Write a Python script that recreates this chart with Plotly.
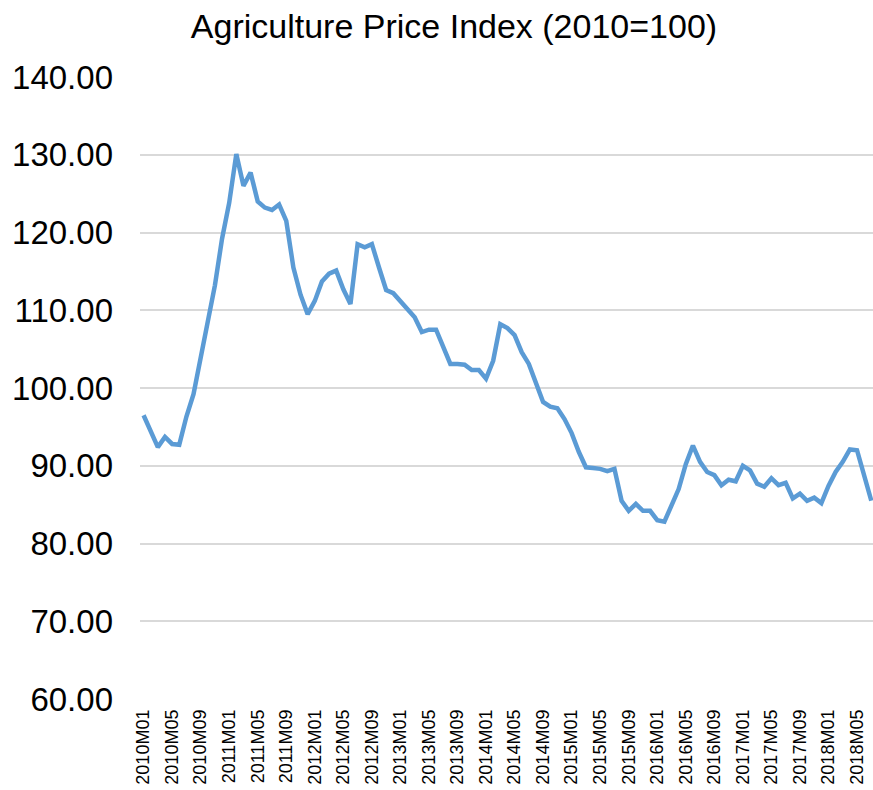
import plotly.graph_objects as go

# Monthly categories 2010M01 .. 2018M07
months = [f"{y}M{m:02d}" for y in range(2010, 2019) for m in range(1, 13)][:103]

price_index = [
    96.5, 94.4, 92.4, 93.7, 92.8, 92.7, 96.3, 99.2, 104.0, 108.7, 113.2, 119.2,   # 2010
    123.8, 130.1, 126.0, 127.7, 124.0, 123.2, 122.9, 123.6, 121.5, 115.5, 112.0, 109.5,  # 2011
    111.2, 113.7, 114.7, 115.1, 112.7, 110.8, 118.5, 118.1, 118.5, 115.5, 112.6, 112.2,  # 2012
    111.1, 110.0, 109.1, 107.2, 107.5, 107.5, 105.2, 103.1, 103.1, 103.0, 102.3, 102.3,  # 2013
    101.2, 103.5, 108.2, 107.7, 106.8, 104.6, 103.1, 100.8, 98.2, 97.6, 97.4, 96.0,      # 2014
    94.2, 91.8, 89.8, 89.7, 89.6, 89.3, 89.6, 85.5, 84.2, 85.1, 84.2, 84.2,              # 2015
    83.0, 82.8, 85.0, 87.0, 90.2, 92.6, 90.5, 89.2, 88.8, 87.5, 88.2, 88.0,              # 2016
    90.0, 89.4, 87.7, 87.3, 88.4, 87.5, 87.8, 85.8, 86.4, 85.5, 85.9, 85.2,              # 2017
    87.4, 89.2, 90.5, 92.1, 92.0, 88.6, 85.5,                                            # 2018
]

tick_labels = months[::4]
y_ticks = [60, 70, 80, 90, 100, 110, 120, 130, 140]
y_tick_text = [f"{v:.2f}" for v in y_ticks]

fig = go.Figure()
fig.add_trace(go.Scatter(
    x=months[:len(price_index)],
    y=price_index,
    mode="lines",
    line=dict(color="#5b9bd5", width=4.5),
    hoverinfo="x+y",
))

fig.update_layout(
    width=873,
    height=790,
    margin=dict(l=140, r=0, t=77, b=91),
    paper_bgcolor="white",
    plot_bgcolor="white",
    showlegend=False,
    font=dict(family="Liberation Sans, Arial, sans-serif", color="#000000"),
    title=dict(
        text="Agriculture Price Index (2010=100)",
        x=454 / 873,
        xref="container",
        xanchor="center",
        y=1 - 26 / 790,
        yref="container",
        yanchor="middle",
        font=dict(size=34, color="#000000"),
    ),
    xaxis=dict(
        type="category",
        categoryorder="array",
        categoryarray=months,
        range=[-0.5, 102.24],
        tickmode="array",
        tickvals=tick_labels,
        ticktext=tick_labels,
        tickangle=-90,
        tickfont=dict(size=18, color="#000000"),
        showgrid=False,
        showline=False,
        zeroline=False,
        ticks="",
        ticklabelstandoff=6,
        automargin=False,
    ),
    yaxis=dict(
        range=[60, 140],
        tickmode="array",
        tickvals=y_ticks,
        ticktext=y_tick_text,
        tickfont=dict(size=33, color="#000000"),
        showgrid=True,
        gridcolor="#d9d9d9",
        gridwidth=2,
        zeroline=False,
        showline=False,
        ticks="",
        ticklabelstandoff=26,
        automargin=False,
    ),
)

fig.write_html(
    "out.html",
    config={"displayModeBar": False},
    post_script="document.body.style.margin='0';document.body.style.overflow='hidden';",
)
